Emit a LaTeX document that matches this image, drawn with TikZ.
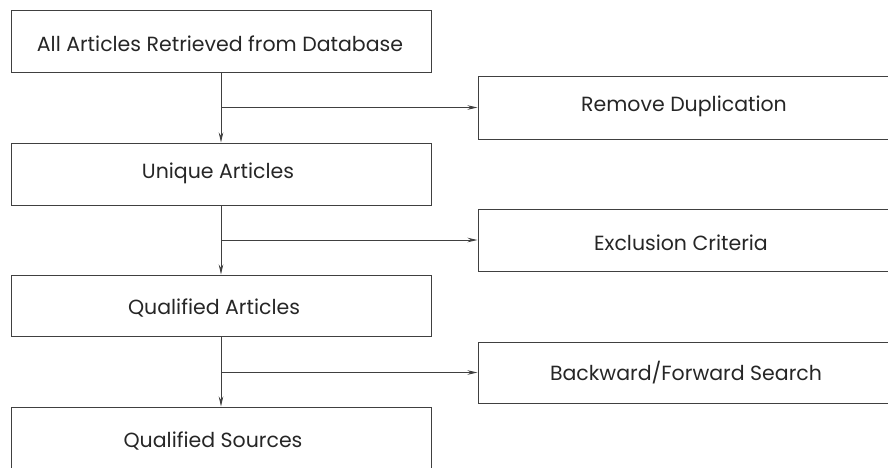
\documentclass[tikz,border=0pt]{standalone}
\usepackage{fontspec}
\setmainfont{Poppins}
\usetikzlibrary{arrows.meta}
\begin{document}
\begin{tikzpicture}[x=1pt,y=-1pt,
  box/.style={draw=black!75, line width=1pt, minimum width=420pt, minimum height=62pt, inner sep=0pt, font=\fontsize{20.5}{24}\selectfont, text=black!85},
  rbox/.style={box, minimum width=412pt},
  lbl/.style={font=\fontsize{20.5}{24}\selectfont, text=black!85, inner sep=0pt},
  conn/.style={draw=black!75, line width=0.9pt, -{Stealth[length=10pt,width=4.5pt]}}]
\useasboundingbox (0,0) rectangle (888,467);
\clip (0,0) rectangle (888,467);
\node[box] (a) at (221,41) {};
\node[box] (b) at (221,174) {};
\node[box, minimum height=61pt] (c) at (221,305.5) {};
\node[box] (d) at (221,438) {};
\node[rbox, minimum height=63pt] (r1) at (684,107.5) {};
\node[rbox] (r2) at (684,240) {};
\node[rbox, minimum height=61pt] (r3) at (684,372.5) {};
\node[lbl] (ta) at (220,44) {All Articles Retrieved from Database};
\node[lbl] (tb) at (218,173) {Unique Articles};
\node[lbl] (tc) at (214,308) {Qualified Articles};
\node[lbl] (td) at (213,441) {Qualified Sources};
\node[lbl] (t1) at (684,106) {Remove Duplication};
\node[lbl] (t2) at (681,243) {Exclusion Criteria};
\node[lbl] (t3) at (686,373) {Backward/Forward Search};
\draw[conn] (a.south) -- (b.north);
\draw[conn] (b.south) -- (c.north);
\draw[conn] (c.south) -- (d.north);
\draw[conn] (a.south |- r1.west) -- (r1.west);
\draw[conn] (b.south |- r2.west) -- (r2.west);
\draw[conn] (c.south |- r3.west) -- (r3.west);
\end{tikzpicture}
\end{document}
